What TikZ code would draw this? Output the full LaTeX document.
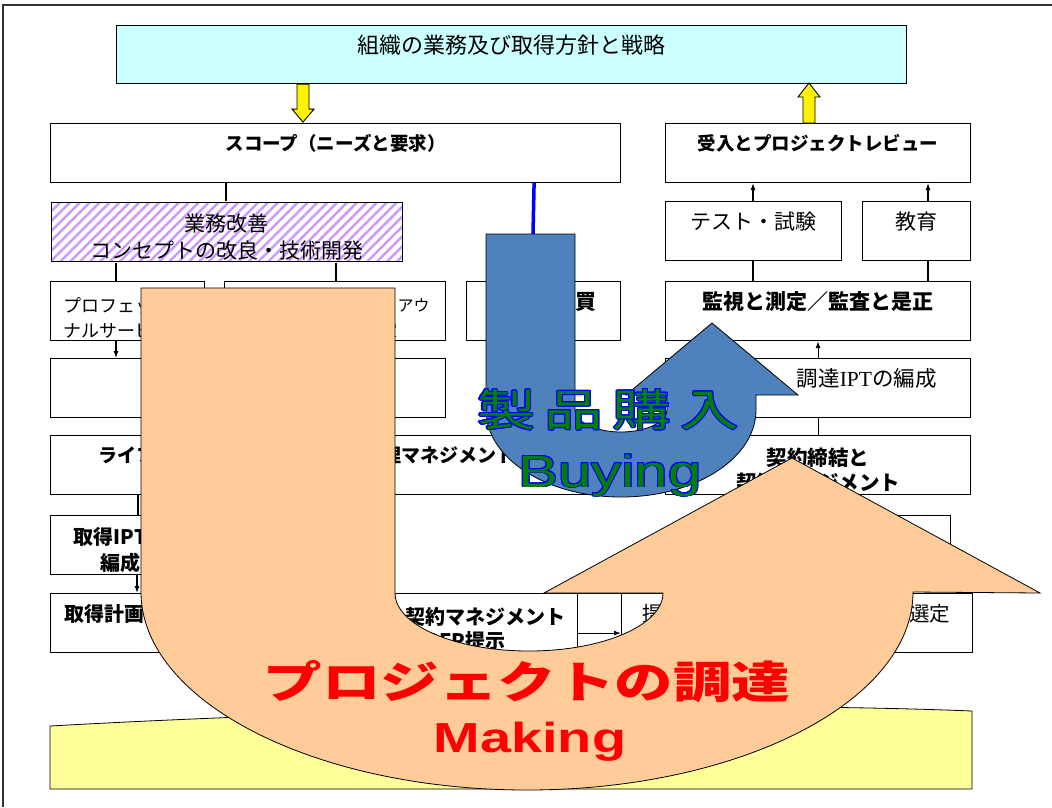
\documentclass[tikz,border=0pt]{standalone}
\usepackage{fontspec}
\newfontfamily\jp{Noto Sans CJK JP}
\newfontfamily\lat{Liberation Sans}
\newfontfamily\rom{Liberation Serif}
\usepackage{contour}
\usetikzlibrary{arrows.meta,patterns.meta}

\definecolor{cyanbox}{HTML}{CCFFFF}
\definecolor{hatchviolet}{HTML}{CC99FF}
\definecolor{buyblue}{HTML}{4F81BD}
\definecolor{makeorange}{HTML}{FFCC99}
\definecolor{baseyellow}{HTML}{FFFF99}
\definecolor{wordgreen}{HTML}{008000}

\newcommand{\jfs}[2]{\fontsize{#1}{#2}\selectfont}
\newcommand{\tpad}{\rule{0pt}{28pt}}
\contourlength{0.8pt}

\begin{document}
\begin{tikzpicture}[x=1pt,y=-1pt,>={Latex[length=7pt,width=5pt]}]

	% Styles
	\tikzstyle{box} = [draw,line width=1.1pt,anchor=north west,inner sep=0pt,align=center,minimum height=59pt]
	\tikzstyle{oneline} = [text depth=21pt]
	\tikzstyle{link} = [line width=1.1pt]
	\tikzstyle{blockarrow} = [draw,fill=yellow,line width=0.9pt]
	\tikzstyle{outline} = [draw,line width=0.8pt]
	\tikzstyle{wordart} = [inner sep=0pt,xscale=1.33]

	\useasboundingbox (0,0) rectangle (1052,807);

	% Rahmen
	\draw[line width=2pt,black!80] (3,807) -- (3,5) -- (1052,5);

	% Kaesten oben
	\node at (116,25) [box,oneline,fill=cyanbox,minimum width=790pt,minimum height=58pt,font=\jp\jfs{22pt}{30pt}] (policy) {組織の業務及び取得方針と戦略};
	\node at (50,123) [box,oneline,minimum width=570pt,font=\jp\bfseries\jfs{18.5pt}{26pt}] (scope) {スコープ（ニーズと要求）};
	\node at (665,123) [box,oneline,minimum width=305pt,font=\jp\bfseries\jfs{18.5pt}{26pt}] (accept) {受入とプロジェクトレビュー};

	% Kaesten links
	\node at (50,201) [box,minimum width=351pt,pattern={Lines[angle=45,distance=7pt,line width=2.5pt]},pattern color=hatchviolet,font=\jp\jfs{21pt}{27pt}] (improve) {\tpad 業務改善\\コンセプトの改良・技術開発};
	\node at (50,281) [box,minimum width=154pt,text width=128pt,align=left,font=\jp\jfs{18pt}{25pt}] (prof) {\tpad プロフェッショ\\ナルサービス};
	\node at (224,281) [box,minimum width=221pt,text width=195pt,align=left,font=\jp\jfs{16pt}{25pt}] (make) {\tpad 製作か購入かの判断とアウ\\トソーシング化の決定};
	\node at (466,281) [box,oneline,minimum width=154pt,font=\jp\bfseries\jfs{21pt}{26pt}] (cots) {市販品購買};
	\node at (50,358) [box,minimum width=395pt] (mgmt) {};
	\node at (50,435) [box,oneline,minimum width=570pt,font=\jp\bfseries\jfs{19pt}{26pt}] (lifecycle) {ライフサイクルコスト及び品質管理マネジメントの確立};
	\node at (50,515) [box,minimum width=140pt,font=\jp\bfseries\jfs{20pt}{26pt}] (acqipt) {\tpad 取得IPTの\\編成};
	\node at (50,593) [box,oneline,minimum width=323pt,text width=295pt,align=left,font=\jp\bfseries\jfs{20pt}{26pt}] (acqplan) {取得計画の作成};
	\node at (393,593) [box,minimum width=184pt,text width=160pt,align=left,font=\jp\bfseries\jfs{20pt}{24pt}] (rfp) {\tpad 契約マネジメント\\とRFP提示};
	\node at (577,593) [box,minimum width=44pt] (gap) {};
	\node at (621,593) [box,oneline,minimum width=351pt,text width=309pt,align=left,font=\jp\jfs{20.5pt}{26pt}] (select) {提案書の評価と契約相手方の選定};

	% Kaesten rechts
	\node at (665,201) [box,oneline,minimum width=176pt,font=\jp\jfs{21pt}{26pt}] (test) {テスト・試験};
	\node at (862,201) [box,oneline,minimum width=108pt,font=\jp\jfs{21pt}{26pt}] (edu) {教育};
	\node at (665,281) [box,oneline,minimum width=305pt,font=\jp\bfseries\jfs{21pt}{26pt}] (monitor) {監視と測定／監査と是正};
	\node at (665,358) [box,oneline,minimum width=305pt,text width=237pt,align=right,font=\jp\jfs{21.5pt}{26pt}] (ipt) {調達{\rom IPT}の編成};
	\node at (665,435) [box,minimum width=305pt,font=\jp\bfseries\jfs{20.5pt}{25pt}] (contract) {\tpad 契約締結と\\契約マネジメント};
	\node at (700,515) [box,minimum width=250pt] (award) {};

	% Blockpfeile
	\draw[blockarrow] ([xshift=181pt]policy.south west) -- ++(0,25) -- ++(-5,0) -- ++(11,13) -- ++(11,-13) -- ++(-5,0) -- ([xshift=193pt]policy.south west) -- cycle;
	\draw[blockarrow] ([xshift=138pt]accept.north west) -- ++(0,-26) -- ++(-5,0) -- ++(11,-14) -- ++(11,14) -- ++(-5,0) -- ([xshift=150pt]accept.north west) -- cycle;

	% Verbindungen
	\draw[link] ([xshift=176pt]scope.south west) -- ([xshift=176pt]improve.north west);
	\draw[link] ([xshift=66pt]improve.south west) -- ([xshift=66pt]prof.north west);
	\draw[link] ([xshift=286pt]improve.south west) -- ([xshift=112pt]make.north west);
	\draw[link,->] ([xshift=66pt]prof.south west) -- ([xshift=66pt]mgmt.north west);
	\draw[link] ([xshift=88pt]lifecycle.south west) -- ([xshift=88pt]acqipt.north west);
	\draw[link,->] ([xshift=87pt]acqipt.south west) -- ([xshift=87pt]acqplan.north west);
	\draw[link,->] ([yshift=20pt]rfp.south east) -- ([yshift=20pt]select.south west);
	\draw[link,->] ([xshift=88pt]test.north west) -- ([xshift=88pt]accept.south west);
	\draw[link,->] ([xshift=66pt]edu.north west) -- ([xshift=263pt]accept.south west);
	\draw[link] ([xshift=88pt]monitor.north west) -- ([xshift=88pt]test.south west);
	\draw[link] ([xshift=263pt]monitor.north west) -- ([xshift=66pt]edu.south west);
	\draw[link,->] (ipt.north) -- (monitor.south);
	\draw[link] (contract.north) -- (ipt.south);

	% Sockel
	\draw[outline,fill=baseyellow] (50,726) .. controls (300,712) and (700,700) .. (972,711) -- (972,789) -- (50,789) -- cycle;

	% Kaufen
	\coordinate (buytop) at (533,234);
	\draw[line width=3.5pt,blue] ([xshift=-87pt]scope.south east) -- (buytop);
	\draw[outline,fill=buyblue] (486,234) -- (486,410) .. controls (486,458) and (546,497) .. (621,497)
		.. controls (696,497) and (756,458) .. (756,410) -- (756,395) -- (798,395) -- (712,323) -- (626,395)
		-- (667,395) -- (667,410) .. controls (667,422) and (646,432) .. (621,432)
		.. controls (596,432) and (575,422) .. (575,410) -- (575,234) -- cycle;

	% Machen
	\draw[outline,fill=makeorange] (141,288) -- (141,592) .. controls (141,701) and (314,790) .. (527,790)
		.. controls (740,790) and (913,701) .. (913,592) -- (1040,593) -- (792,458) -- (544,593)
		-- (663,593) .. controls (663,625) and (603,651) .. (529,651)
		.. controls (455,651) and (395,625) .. (395,593) -- (395,288) -- cycle;

	% Beschriftung
	\node at (608,410) [wordart,text=wordgreen,font=\jp\jfs{44pt}{50pt}] (buyjp) {\contour{blue}{製\hspace{7pt}品\hspace{7pt}購\hspace{7pt}入}};
	\node at (610,487) [wordart,anchor=base,text=wordgreen,font=\lat\jfs{45pt}{50pt}] (buyen) {\contour{blue}{Buying}};
	\node at (527,682) [wordart,text=red,font=\jp\bfseries\jfs{44pt}{50pt}] (makejp) {プロジェクトの調達};
	\node at (530,752) [wordart,anchor=base,text=red,font=\lat\bfseries\jfs{42pt}{50pt}] (makeen) {Making};

\end{tikzpicture}
\end{document}
